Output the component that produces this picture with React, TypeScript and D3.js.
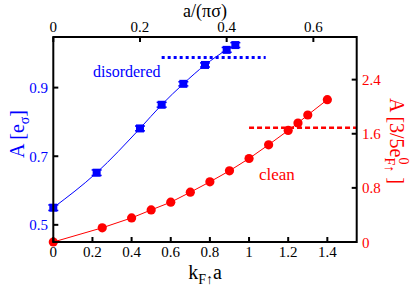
import React from "react";
import * as d3 from "d3";

const disorderedX = [0, 0.1, 0.2, 0.25, 0.3, 0.35, 0.4, 0.42];
const disorderedA = [0.55, 0.652, 0.781, 0.85, 0.911, 0.966, 1.01, 1.024];
const disorderedErr = [0.008, 0.008, 0.007, 0.007, 0.006, 0.006, 0.007, 0.007];
const cleanX = [0, 0.25, 0.4, 0.5, 0.6, 0.7, 0.8, 0.9, 1.0, 1.1, 1.2, 1.25, 1.3, 1.4];
const cleanA = [0, 0.21, 0.356, 0.474, 0.588, 0.736, 0.889, 1.052, 1.234, 1.437, 1.649, 1.759, 1.877, 2.104];
const bottomTicks = [0, 0.2, 0.4, 0.6, 0.8, 1, 1.2, 1.4];
const topTicks = [0, 0.2, 0.4, 0.6];
const leftTicks = [0.5, 0.7, 0.9];
const rightTicks = [0, 0.8, 1.6, 2.4];
const disorderedLimit = { from: 0.25, to: 0.49, value: 0.988 };
const cleanLimit = { from: 1.0, value: 1.69 };

const W = 415, H = 291;
const L = 53.3, R = 356.7, T = 37, B = 242;
const BLUE = "#0000ff";
const RED = "#ff0000";
const FONT = "\"Liberation Serif\", \"DejaVu Serif\", serif";
const TICK = 15;

export default function App() {
  const xB = d3.scaleLinear().domain([0, 1.55]).range([L, R]);
  const xT = d3.scaleLinear().domain([0, 0.7]).range([L, R]);
  const yL = d3.scaleLinear().domain([0.45, 1.0475]).range([B, T]);
  const yR = d3.scaleLinear().domain([0, 3.03]).range([B, T]);

  const blueLine = d3
    .line<number>()
    .x((_, i) => xT(disorderedX[i]))
    .y((d) => yL(d))
    .curve(d3.curveMonotoneX)(disorderedA) as string;
  const redLine = d3
    .line<number>()
    .x((_, i) => xB(cleanX[i]))
    .y((d) => yR(d))(cleanA) as string;

  const fmt = (v: number) => (v === 0 ? "0" : String(v));
  const ts = { fontFamily: FONT };

  return (
    <svg
      width={W}
      height={H}
      style={{ position: "absolute", left: 0, top: 0, background: "#fff", fontFamily: FONT }}
    >
      <rect x={0} y={0} width={W} height={H} fill="#fff" />
      <line
        x1={xT(disorderedLimit.from)}
        x2={xT(disorderedLimit.to)}
        y1={yL(disorderedLimit.value)}
        y2={yL(disorderedLimit.value)}
        stroke={BLUE}
        strokeWidth={3}
        strokeDasharray="3,3"
      />
      <line
        x1={xB(cleanLimit.from)}
        x2={R}
        y1={yR(cleanLimit.value)}
        y2={yR(cleanLimit.value)}
        stroke={RED}
        strokeWidth={2.5}
        strokeDasharray="5,3"
      />
      <path d={blueLine} fill="none" stroke={BLUE} strokeWidth={1} />
      <path d={redLine} fill="none" stroke={RED} strokeWidth={1} />
      {cleanA.map((v, i) => (
        <circle key={"c" + i} cx={xB(cleanX[i])} cy={yR(v)} r={4.6} fill={RED} />
      ))}
      {disorderedA.map((v, i) => {
        const cx = xT(disorderedX[i]);
        const cy = yL(v);
        const e = disorderedErr[i];
        return (
          <g key={"d" + i}>
            <line x1={cx} x2={cx} y1={yL(v - e)} y2={yL(v + e)} stroke={BLUE} strokeWidth={1.5} />
            <line x1={cx - 5} x2={cx + 5} y1={yL(v - e)} y2={yL(v - e)} stroke={BLUE} strokeWidth={1.5} />
            <line x1={cx - 5} x2={cx + 5} y1={yL(v + e)} y2={yL(v + e)} stroke={BLUE} strokeWidth={1.5} />
            <rect x={cx - 4} y={cy - 4} width={8} height={8} fill={BLUE} />
          </g>
        );
      })}
      <rect x={L} y={T} width={R - L} height={B - T} fill="none" stroke="#000" strokeWidth={2} />
      {bottomTicks.map((t) => (
        <g key={"b" + t}>
          <line x1={xB(t)} x2={xB(t)} y1={B} y2={B - 5} stroke="#000" strokeWidth={2} />
          <text x={xB(t)} y={257} textAnchor="middle" fontSize={TICK} fill="#000" style={ts}>
            {fmt(t)}
          </text>
        </g>
      ))}
      {topTicks.map((t) => (
        <g key={"t" + t}>
          <line x1={xT(t)} x2={xT(t)} y1={T} y2={T + 5} stroke="#000" strokeWidth={2} />
          <text x={xT(t)} y={31.5} textAnchor="middle" fontSize={TICK} fill="#000" style={ts}>
            {fmt(t)}
          </text>
        </g>
      ))}
      {leftTicks.map((t) => (
        <g key={"l" + t}>
          <line x1={L} x2={L + 5} y1={yL(t)} y2={yL(t)} stroke="#000" strokeWidth={2} />
          <text x={48} y={yL(t) + 5.5} textAnchor="end" fontSize={TICK} fill={BLUE} style={ts}>
            {fmt(t)}
          </text>
        </g>
      ))}
      {rightTicks.map((t) => (
        <g key={"r" + t}>
          <line x1={R} x2={R - 5} y1={yR(t)} y2={yR(t)} stroke="#000" strokeWidth={2} />
          <text x={362} y={yR(t) + 5.5} textAnchor="start" fontSize={TICK} fill={RED} style={ts}>
            {fmt(t)}
          </text>
        </g>
      ))}
      <text x={93} y={77} fontSize={16} fill={BLUE} style={ts}>disordered</text>
      <text x={259} y={179.5} fontSize={17} fill={RED} style={ts}>clean</text>
      <text x={205} y={17} textAnchor="middle" fontSize={18} fill="#000" style={ts}>a/(πσ)</text>
      <text x={205} y={279} textAnchor="middle" fontSize={20} fill="#000" style={ts}>
        k<tspan fontSize={14} dy={5}>F↑</tspan>
        <tspan dy={-5}>a</tspan>
      </text>
      <text
        transform="translate(24,134) rotate(-90)"
        textAnchor="middle"
        fontSize={20}
        fill={BLUE}
        style={ts}
      >
        A [e<tspan fontSize={14} dy={5}>σ</tspan>
        <tspan dy={-5}>]</tspan>
      </text>
      <text
        transform="translate(390,141) rotate(90)"
        textAnchor="middle"
        fontSize={20}
        fill={RED}
        style={ts}
      >
        A [3/5e<tspan fontSize={14} dy={-9}>0</tspan>
        <tspan fontSize={14} dx={-7} dy={14}>F↑</tspan>
        <tspan dy={-5}> ]</tspan>
      </text>
    </svg>
  );
}
